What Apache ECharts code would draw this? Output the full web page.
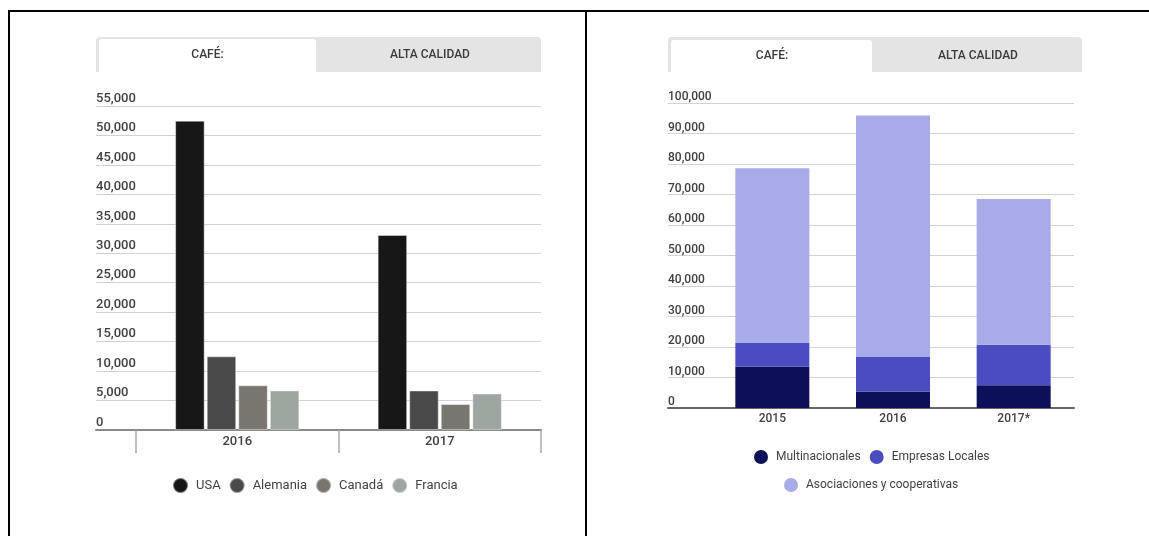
<!DOCTYPE html>
<html>
<head>
<meta charset="utf-8">
<script src="https://cdn.jsdelivr.net/npm/echarts@6/dist/echarts.min.js"></script>
<style>
  html, body { margin: 0; padding: 0; background: #fff; }
  #chart { width: 1149px; height: 536px; }
</style>
</head>
<body>
<div id="chart"></div>
<script>
// ---- Left chart data ----
const leftCategories = ['2016', '2017'];
const usa = [52500, 33100];
const alemania = [12500, 6700];
const canada = [7600, 4400];
const francia = [6700, 6200];
const leftAxisMax = 55000;
const leftAxisStep = 5000;

// ---- Right chart data ----
const rightCategories = ['2015', '2016', '2017*'];
const multinacionales = [13500, 5400, 7500];
const empresasLocales = [7800, 11300, 13200];
const asociaciones = [57300, 79200, 47800];
const rightAxisMax = 100000;
const rightAxisStep = 10000;

// ---- Tab labels ----
const tabLabels = ['CAFÉ:', 'ALTA CALIDAD'];

const FONT = 'Roboto, "Noto Sans", sans-serif';
const fmt = v => v.toLocaleString('en-US');
const gridLineColor = '#d2d2d2';
const labelColor = '#3f3f3f';

function yAxisFor(gridIndex, max, step, showLabels, fontSize, pad) {
  return {
    type: 'value', gridIndex, min: 0, max, interval: step,
    position: 'left',
    axisLine: { show: false }, axisTick: { show: false },
    axisLabel: {
      show: showLabels, inside: true, align: 'left', verticalAlign: 'bottom',
      margin: 0, padding: [0, 0, pad, 0],
      formatter: fmt, color: labelColor, fontSize, fontFamily: FONT, fontWeight: 500
    },
    splitLine: { show: true, lineStyle: { color: gridLineColor, width: 1 } }
  };
}
function stubXAxis(gridIndex, color) {
  return {
    type: 'value', gridIndex, min: 0, max: 1, show: true,
    axisLine: { show: true, onZero: false, lineStyle: { color, width: 2 } },
    axisLabel: { show: false }, axisTick: { show: false }, splitLine: { show: false }
  };
}

const chart = echarts.init(document.getElementById('chart'), null, { renderer: 'canvas' });

const option = {
  animation: false,
  backgroundColor: '#fff',
  textStyle: { fontFamily: FONT },
  grid: [
    { left: 96, top: 106, width: 40, height: 324 },
    { left: 136, top: 106, width: 405, height: 324 },
    { left: 668, top: 103, width: 44, height: 305 },
    { left: 712, top: 103, width: 362, height: 305 }
  ],
  xAxis: [
    stubXAxis(0, '#8a8a8a'),
    {
      type: 'category', gridIndex: 1, data: leftCategories,
      axisLine: { show: true, lineStyle: { color: '#8a8a8a', width: 2 } },
      axisTick: { show: true, length: 23, lineStyle: { color: '#aaaaaa', width: 1.5 } },
      axisLabel: { color: labelColor, fontSize: 13, fontFamily: FONT, fontWeight: 500, margin: 5 },
      splitLine: { show: false }
    },
    stubXAxis(2, '#666'),
    {
      type: 'category', gridIndex: 3, data: rightCategories,
      axisLine: { show: true, lineStyle: { color: '#666', width: 2 } },
      axisTick: { show: false },
      axisLabel: { color: labelColor, fontSize: 12, fontFamily: FONT, fontWeight: 500, margin: 5 },
      splitLine: { show: false }
    }
  ],
  yAxis: [
    yAxisFor(0, leftAxisMax, leftAxisStep, true, 13, 1),
    yAxisFor(1, leftAxisMax, leftAxisStep, false, 13, 1),
    yAxisFor(2, rightAxisMax, rightAxisStep, true, 12, 0),
    yAxisFor(3, rightAxisMax, rightAxisStep, false, 12, 0)
  ],
  legend: [
    {
      data: ['USA', 'Alemania', 'Canadá', 'Francia'],
      left: 167, top: 472, icon: 'circle', itemWidth: 15, itemHeight: 15, itemGap: 8,
      textStyle: { color: labelColor, fontSize: 13, fontFamily: FONT, padding: [0, 0, 0, 3] }
    },
    {
      data: ['Multinacionales', 'Empresas Locales'],
      left: 749, top: 445, icon: 'circle', itemWidth: 14, itemHeight: 14, itemGap: 9,
      textStyle: { color: labelColor, fontSize: 12, fontFamily: FONT, padding: [0, 0, 0, 3] }
    },
    {
      data: ['Asociaciones y cooperativas'],
      left: 779, top: 473, icon: 'circle', itemWidth: 14, itemHeight: 14,
      textStyle: { color: labelColor, fontSize: 12, fontFamily: FONT, padding: [0, 0, 0, 3] }
    }
  ],
  series: [
    { name: 'USA', type: 'bar', xAxisIndex: 1, yAxisIndex: 1, data: usa,
      barWidth: 29.5, barGap: '7%', itemStyle: { color: '#171717', borderColor: 'rgba(255,255,255,0.4)', borderWidth: 1 } },
    { name: 'Alemania', type: 'bar', xAxisIndex: 1, yAxisIndex: 1, data: alemania,
      barWidth: 29.5, barGap: '7%', itemStyle: { color: '#4a4a4a', borderColor: 'rgba(255,255,255,0.4)', borderWidth: 1 } },
    { name: 'Canadá', type: 'bar', xAxisIndex: 1, yAxisIndex: 1, data: canada,
      barWidth: 29.5, barGap: '7%', itemStyle: { color: '#79766f', borderColor: 'rgba(255,255,255,0.4)', borderWidth: 1 } },
    { name: 'Francia', type: 'bar', xAxisIndex: 1, yAxisIndex: 1, data: francia,
      barWidth: 29.5, barGap: '7%', itemStyle: { color: '#9ea6a0', borderColor: 'rgba(255,255,255,0.4)', borderWidth: 1 } },

    { name: 'Multinacionales', type: 'bar', stack: 'r', xAxisIndex: 3, yAxisIndex: 3, data: multinacionales,
      barWidth: 74, itemStyle: { color: '#0d0f58' } },
    { name: 'Empresas Locales', type: 'bar', stack: 'r', xAxisIndex: 3, yAxisIndex: 3, data: empresasLocales,
      barWidth: 74, itemStyle: { color: '#4a4cbf' } },
    { name: 'Asociaciones y cooperativas', type: 'bar', stack: 'r', xAxisIndex: 3, yAxisIndex: 3, data: asociaciones,
      barWidth: 74, itemStyle: { color: '#a9aae8' } }
  ],
  graphic: [
    // frame lines
    { type: 'line', shape: { x1: 8, y1: 11, x2: 1149, y2: 11 }, style: { stroke: '#000', lineWidth: 2 }, silent: true },
    { type: 'line', shape: { x1: 9, y1: 10, x2: 9, y2: 536 }, style: { stroke: '#000', lineWidth: 2 }, silent: true },
    { type: 'line', shape: { x1: 586, y1: 10, x2: 586, y2: 536 }, style: { stroke: '#000', lineWidth: 2 }, silent: true },
    // left tabs
    { type: 'rect', shape: { x: 96, y: 37, width: 445, height: 35, r: [4, 4, 0, 0] }, style: { fill: '#e4e4e4' }, silent: true },
    { type: 'rect', shape: { x: 99, y: 39, width: 217, height: 33, r: [3, 3, 0, 0] }, style: { fill: '#fff' }, silent: true },
    { type: 'text', x: 207.5, y: 55, style: { text: tabLabels[0], fill: '#3a3a3a', font: '500 12px ' + FONT, align: 'center', verticalAlign: 'middle' }, silent: true },
    { type: 'text', x: 430, y: 55, style: { text: tabLabels[1], fill: '#3a3a3a', font: '500 12px ' + FONT, align: 'center', verticalAlign: 'middle' }, silent: true },
    // right tabs
    { type: 'rect', shape: { x: 668, y: 37, width: 414, height: 35, r: [4, 4, 0, 0] }, style: { fill: '#e4e4e4' }, silent: true },
    { type: 'rect', shape: { x: 671, y: 40, width: 201, height: 32, r: [3, 3, 0, 0] }, style: { fill: '#fff' }, silent: true },
    { type: 'text', x: 772, y: 56, style: { text: tabLabels[0], fill: '#3a3a3a', font: '500 12px ' + FONT, align: 'center', verticalAlign: 'middle' }, silent: true },
    { type: 'text', x: 978, y: 56, style: { text: tabLabels[1], fill: '#3a3a3a', font: '500 12px ' + FONT, align: 'center', verticalAlign: 'middle' }, silent: true }
  ]
};

chart.setOption(option);
</script>
</body>
</html>
